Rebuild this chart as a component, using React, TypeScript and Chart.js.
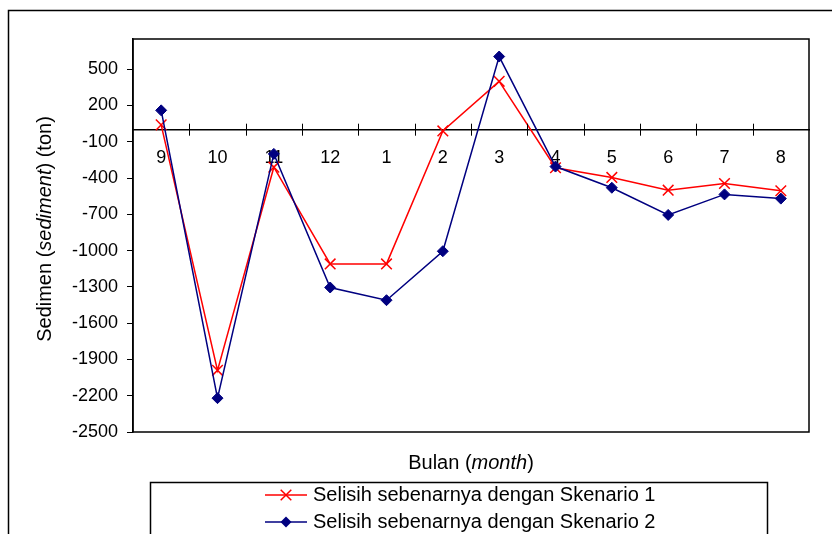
import React, { useEffect, useRef } from 'react';
import { Chart, registerables } from 'chart.js';

Chart.register(...registerables);

const months = ['9', '10', '11', '12', '1', '2', '3', '4', '5', '6', '7', '8'];
const scenario1 = [40, -1990, -310, -1110, -1110, -10, 400, -315, -395, -500, -445, -505];
const scenario2 = [160, -2220, -200, -1305, -1410, -1005, 605, -305, -480, -705, -535, -570];
const yTickValues = [-2500, -2200, -1900, -1600, -1300, -1000, -700, -400, -100, 200, 500];
const seriesNames = ['Selisih sebenarnya dengan Skenario 1', 'Selisih sebenarnya dengan Skenario 2'];
const xTitleParts: [string, boolean][] = [['Bulan (', false], ['month', true], [')', false]];
const yTitleParts: [string, boolean][] = [['Sedimen (', false], ['sediment', true], [') (ton)', false]];

const RED = '#ff0000';
const NAVY = '#000080';
const FONT = '"Liberation Sans", Arial, sans-serif';

function drawParts(ctx: CanvasRenderingContext2D, parts: [string, boolean][], size: number) {
  const widths = parts.map(([t, it]) => {
    ctx.font = `${it ? 'italic ' : ''}${size}px ${FONT}`;
    return ctx.measureText(t).width;
  });
  const total = widths.reduce((a, b) => a + b, 0);
  let x = -total / 2;
  parts.forEach(([t, it], i) => {
    ctx.font = `${it ? 'italic ' : ''}${size}px ${FONT}`;
    ctx.fillText(t, x, 0);
    x += widths[i];
  });
}

const decor = {
  id: 'decor',
  afterDraw(chart: any) {
    const ctx: CanvasRenderingContext2D = chart.ctx;
    const a = chart.chartArea;
    ctx.save();
    ctx.strokeStyle = '#000';
    ctx.fillStyle = '#000';

    // outer frame
    ctx.lineWidth = 1.5;
    ctx.beginPath();
    ctx.moveTo(8.5, 534);
    ctx.lineTo(8.5, 10.5);
    ctx.lineTo(832, 10.5);
    ctx.stroke();

    // plot border
    ctx.strokeRect(a.left, a.top, a.right - a.left, a.bottom - a.top);

    // crossing tick marks on the x axis (at zero)
    const y0 = chart.scales.y.getPixelForValue(0);
    const n = months.length;
    const w = (a.right - a.left) / n;
    ctx.lineWidth = 1;
    ctx.beginPath();
    for (let i = 1; i < n; i++) {
      const x = Math.round(a.left + i * w) + 0.5;
      ctx.moveTo(x, y0 - 6);
      ctx.lineTo(x, y0 + 6);
    }
    ctx.stroke();

    // axis titles
    ctx.textBaseline = 'middle';
    ctx.textAlign = 'left';
    ctx.save();
    ctx.translate((a.left + a.right) / 2, 463);
    drawParts(ctx, xTitleParts, 20);
    ctx.restore();
    ctx.save();
    ctx.translate(45, 229);
    ctx.rotate(-Math.PI / 2);
    drawParts(ctx, yTitleParts, 20);
    ctx.restore();

    // legend box
    ctx.lineWidth = 1.5;
    ctx.beginPath();
    ctx.moveTo(150.5, 534);
    ctx.lineTo(150.5, 482.5);
    ctx.lineTo(767.5, 482.5);
    ctx.lineTo(767.5, 534);
    ctx.stroke();

    const rows = [495, 522];
    const colors = [RED, NAVY];
    rows.forEach((ry, i) => {
      ctx.strokeStyle = colors[i];
      ctx.fillStyle = colors[i];
      ctx.lineWidth = 1.5;
      ctx.beginPath();
      ctx.moveTo(265, ry);
      ctx.lineTo(307, ry);
      ctx.stroke();
      const cx = 286;
      if (i === 0) {
        const h = 5.3;
        ctx.beginPath();
        ctx.moveTo(cx - h, ry - h);
        ctx.lineTo(cx + h, ry + h);
        ctx.moveTo(cx + h, ry - h);
        ctx.lineTo(cx - h, ry + h);
        ctx.stroke();
      } else {
        const r = 5.5;
        ctx.beginPath();
        ctx.moveTo(cx, ry - r);
        ctx.lineTo(cx + r, ry);
        ctx.lineTo(cx, ry + r);
        ctx.lineTo(cx - r, ry);
        ctx.closePath();
        ctx.fill();
      }
      ctx.fillStyle = '#000';
      ctx.font = `20px ${FONT}`;
      ctx.textAlign = 'left';
      ctx.textBaseline = 'middle';
      ctx.fillText(seriesNames[i], 313, ry);
    });

    ctx.restore();
  },
};

export default function App() {
  const ref = useRef<HTMLCanvasElement | null>(null);

  useEffect(() => {
    if (!ref.current) return;
    const chart = new Chart(ref.current, {
      type: 'line',
      data: {
        labels: months,
        datasets: [
          {
            label: seriesNames[0],
            data: scenario1,
            borderColor: RED,
            backgroundColor: RED,
            borderWidth: 1.5,
            pointStyle: 'crossRot',
            pointRadius: 7.5,
            pointBorderWidth: 1.5,
            pointBorderColor: RED,
            tension: 0,
            order: 1,
          },
          {
            label: seriesNames[1],
            data: scenario2,
            borderColor: NAVY,
            backgroundColor: NAVY,
            borderWidth: 1.5,
            pointStyle: 'rectRot',
            pointRadius: 5.5,
            pointBorderWidth: 1,
            pointBorderColor: NAVY,
            tension: 0,
            order: 0,
          },
        ],
      },
      options: {
        responsive: false,
        animation: false,
        events: [],
        layout: { padding: { left: 0, top: 39, right: 23, bottom: 102 } },
        plugins: {
          legend: { display: false },
          tooltip: { enabled: false },
          title: { display: false },
        },
        scales: {
          x: {
            type: 'category',
            position: { y: 0 } as any,
            offset: true,
            grid: { display: false, drawTicks: false },
            border: { display: true, color: '#000', width: 1.5 },
            ticks: {
              color: '#000',
              font: { family: FONT, size: 18 },
              padding: 18,
              maxRotation: 0,
              autoSkip: false,
            },
          },
          y: {
            type: 'linear',
            position: 'left',
            min: -2500,
            max: 750,
            afterBuildTicks: (scale: any) => {
              scale.ticks = yTickValues.map((v) => ({ value: v }));
            },
            afterFit: (scale: any) => {
              scale.width = 133;
            },
            grid: {
              drawOnChartArea: false,
              drawTicks: true,
              tickLength: 6,
              color: '#000',
              lineWidth: 1,
            },
            border: { display: true, color: '#000', width: 1.5 },
            ticks: {
              color: '#000',
              font: { family: FONT, size: 18 },
              padding: 9,
              callback: (v: any) => String(v),
            },
          },
        },
      },
      plugins: [decor],
    });
    return () => chart.destroy();
  }, []);

  return (
    <div style={{ position: 'absolute', left: 0, top: 0, width: 832, height: 534, background: '#fff' }}>
      <canvas ref={ref} width={832} height={534} style={{ display: 'block', width: 832, height: 534 }} />
    </div>
  );
}
